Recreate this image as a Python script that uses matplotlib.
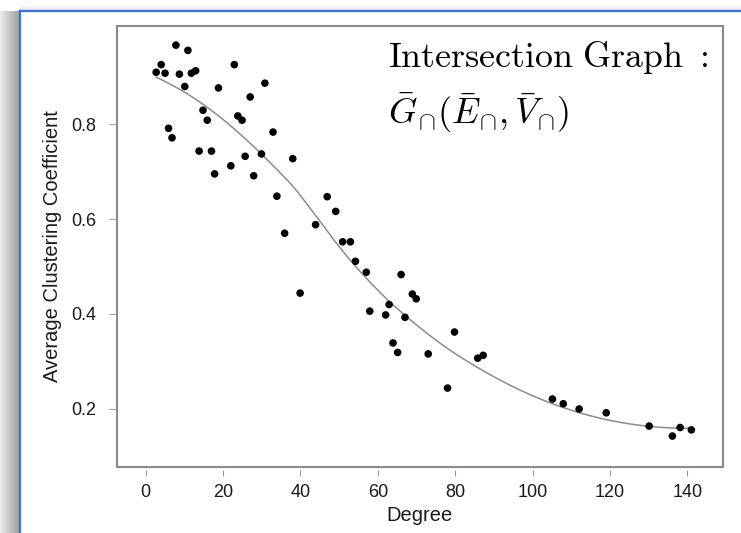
"""
Average clustering coefficient against node degree for the intersection graph,
with a loess trend line through the points.
"""

import numpy as np
import matplotlib
matplotlib.use('Agg')
from matplotlib import pyplot as plt
from matplotlib.patches import Rectangle
from matplotlib.lines import Line2D

# Degree of each node group and its average clustering coefficient
degree = [2.7, 4.0, 5.0, 7.8, 8.7, 10.9, 11.8, 12.9, 10.1, 5.9,
          6.8, 13.8, 17.0, 14.8, 15.9, 18.8, 17.8, 22.9, 22.0, 23.8,
          24.9, 25.7, 27.0, 27.9, 29.9, 30.8, 32.9, 33.9, 38.0, 46.9,
          49.1, 43.9, 35.9, 50.9, 52.9, 54.2, 57.0, 66.0, 68.9, 69.9,
          57.9, 62.9, 62.0, 67.0, 79.8, 63.9, 65.1, 73.0, 85.8, 87.2,
          78.0, 39.9, 105.1, 107.9, 112.0, 119.0, 130.1, 136.1, 138.1, 141.0]
clustering = [0.909, 0.925, 0.907, 0.966, 0.905, 0.955, 0.907, 0.912, 0.879, 0.791,
              0.771, 0.743, 0.743, 0.829, 0.808, 0.876, 0.695, 0.925, 0.712, 0.817,
              0.808, 0.732, 0.857, 0.691, 0.737, 0.886, 0.783, 0.648, 0.727, 0.647,
              0.616, 0.588, 0.570, 0.552, 0.552, 0.511, 0.488, 0.483, 0.442, 0.432,
              0.406, 0.420, 0.398, 0.393, 0.362, 0.339, 0.319, 0.316, 0.307, 0.313,
              0.244, 0.444, 0.221, 0.211, 0.200, 0.192, 0.164, 0.143, 0.161, 0.156]

x_ticks = [0, 20, 40, 60, 80, 100, 120, 140]
y_ticks = [0.2, 0.4, 0.6, 0.8]


def loess(x, y, grid, span=0.75, degree=2):
    """Local polynomial regression with tricube weights (same idea as R's loess)."""
    x = np.asarray(x, dtype=float)
    y = np.asarray(y, dtype=float)
    q = int(np.ceil(span * len(x)))
    fit = []
    for x0 in grid:
        dist = np.abs(x - x0)
        h = np.sort(dist)[q - 1]
        w = np.clip(1 - (dist / h) ** 3, 0, None) ** 3
        coef = np.polyfit(x, y, degree, w=np.sqrt(w))
        fit.append(np.polyval(coef, x0))
    return np.array(fit)


plt.rcParams['font.family'] = ['Liberation Sans', 'DejaVu Sans']
plt.rcParams['mathtext.fontset'] = 'cm'

fig = plt.figure(figsize=(7.41, 5.33), dpi=100)
fig.patch.set_facecolor('white')

# Window frame: grey drop shadow on the left and a blue border
deco = fig.add_axes([0, 0, 1, 1], zorder=-10)
deco.set_xlim(0, 741)
deco.set_ylim(533, 0)
deco.axis('off')
shade = np.linspace(0.93, 0.62, 64).reshape(1, -1)
deco.imshow(shade, cmap='gray', vmin=0, vmax=1, aspect='auto',
            extent=(0, 18.5, 533, 11), interpolation='bilinear')
shade_top = np.linspace(1.0, 0.9, 16).reshape(-1, 1)
deco.imshow(shade_top, cmap='gray', vmin=0, vmax=1, aspect='auto',
            extent=(18.5, 741, 10, 4), interpolation='bilinear')
deco.add_line(Line2D([19.5, 19.5], [533, 10.5], color='#3a6cf0', lw=1.6))
deco.add_line(Line2D([19.5, 741], [10.5, 10.5], color='#3a6cf0', lw=1.6))

ax = fig.add_axes([0.1583, 0.1244, 0.8170, 0.8274])
ax.set_xlim(-7.34, 149.1)
ax.set_ylim(0.0785, 1.007)

# Smooth trend through the points
xs = np.linspace(min(degree), max(degree), 200)
ax.plot(xs, loess(degree, clustering, xs), color='#8c8c8c', lw=1.1, zorder=2)

ax.scatter(degree, clustering, s=30, color='black', edgecolors='none', zorder=3)

# Plot box drawn separately so the ticks can sit just outside it
for side in ['top', 'right', 'bottom', 'left']:
    ax.spines[side].set_visible(False)
ax.spines['bottom'].set_position(('outward', 2.5))
ax.spines['left'].set_position(('outward', 1.5))
ax.add_patch(Rectangle((0, 0), 1, 1, transform=ax.transAxes, fill=False,
                       edgecolor='#8a8a8a', lw=1.5, clip_on=False, zorder=4))

ax.set_xticks(x_ticks)
ax.set_yticks(y_ticks)
ax.tick_params(direction='out', length=4.3, width=0.8, color='#9a9a9a',
               labelsize=13, labelcolor='#1a1a1a')
ax.tick_params(axis='x', pad=6)
ax.tick_params(axis='y', pad=9)

ax.set_xlabel('Degree', fontsize=14.5, color='#1a1a1a', labelpad=3)
ax.set_ylabel('Average Clustering Coefficient', fontsize=14.5, color='#1a1a1a', labelpad=7)

ax.text(0.447, 0.929, r'$\mathrm{Intersection\ Graph\ :}$', transform=ax.transAxes,
        fontsize=25.8, va='center', ha='left')
ax.text(0.447, 0.802, r'$\bar{G}_{\cap}(\bar{E}_{\cap},\bar{V}_{\cap})$', transform=ax.transAxes,
        fontsize=26, va='center', ha='left')

plt.savefig('out.png', dpi=100, facecolor=fig.get_facecolor())
